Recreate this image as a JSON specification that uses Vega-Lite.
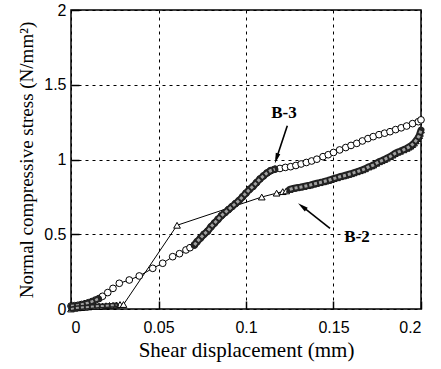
{
  "$schema": "https://vega.github.io/schema/vega-lite/v6.json",
  "width": 350,
  "height": 299,
  "autosize": "none",
  "padding": {"left": 71, "top": 10, "right": 20, "bottom": 60},
  "background": "white",
  "config": {
    "view": {"stroke": "black", "strokeWidth": 1.5},
    "axis": {
      "domain": false,
      "grid": true,
      "gridColor": "black",
      "gridDash": [3, 4],
      "gridWidth": 1,
      "gridOpacity": 1,
      "tickColor": "black",
      "tickSize": -8,
      "tickWidth": 1.5,
      "labelFont": "Liberation Sans",
      "labelFontSize": 16,
      "labelColor": "black",
      "titleFont": "Liberation Serif",
      "titleFontWeight": "normal",
      "titleColor": "black"
    }
  },
  "datasets": {
    "curves": [
      {"series": "B-3", "x": 0.0, "y": 0.02},
      {"series": "B-3", "x": 0.002, "y": 0.022},
      {"series": "B-3", "x": 0.004, "y": 0.025},
      {"series": "B-3", "x": 0.006, "y": 0.03},
      {"series": "B-3", "x": 0.008, "y": 0.035},
      {"series": "B-3", "x": 0.010, "y": 0.042},
      {"series": "B-3", "x": 0.012, "y": 0.05},
      {"series": "B-3", "x": 0.014, "y": 0.06},
      {"series": "B-3", "x": 0.016, "y": 0.07},
      {"series": "B-3", "x": 0.018, "y": 0.085},
      {"series": "B-3", "x": 0.021, "y": 0.11},
      {"series": "B-3", "x": 0.024, "y": 0.138},
      {"series": "B-3", "x": 0.0276, "y": 0.172},
      {"series": "B-3", "x": 0.0333, "y": 0.194},
      {"series": "B-3", "x": 0.039, "y": 0.221},
      {"series": "B-3", "x": 0.0467, "y": 0.272},
      {"series": "B-3", "x": 0.0524, "y": 0.306},
      {"series": "B-3", "x": 0.0581, "y": 0.35},
      {"series": "B-3", "x": 0.062, "y": 0.37},
      {"series": "B-3", "x": 0.0657, "y": 0.395},
      {"series": "B-3", "x": 0.068, "y": 0.41},
      {"series": "B-3", "x": 0.0705, "y": 0.428},
      {"series": "B-3", "x": 0.072, "y": 0.45},
      {"series": "B-3", "x": 0.074, "y": 0.475},
      {"series": "B-3", "x": 0.076, "y": 0.5},
      {"series": "B-3", "x": 0.078, "y": 0.52},
      {"series": "B-3", "x": 0.080, "y": 0.55},
      {"series": "B-3", "x": 0.082, "y": 0.575},
      {"series": "B-3", "x": 0.084, "y": 0.6},
      {"series": "B-3", "x": 0.086, "y": 0.625},
      {"series": "B-3", "x": 0.088, "y": 0.645},
      {"series": "B-3", "x": 0.090, "y": 0.665},
      {"series": "B-3", "x": 0.092, "y": 0.685},
      {"series": "B-3", "x": 0.094, "y": 0.705},
      {"series": "B-3", "x": 0.096, "y": 0.725},
      {"series": "B-3", "x": 0.098, "y": 0.75},
      {"series": "B-3", "x": 0.100, "y": 0.775},
      {"series": "B-3", "x": 0.102, "y": 0.8},
      {"series": "B-3", "x": 0.104, "y": 0.82},
      {"series": "B-3", "x": 0.106, "y": 0.845},
      {"series": "B-3", "x": 0.108, "y": 0.87},
      {"series": "B-3", "x": 0.110, "y": 0.89},
      {"series": "B-3", "x": 0.112, "y": 0.91},
      {"series": "B-3", "x": 0.114, "y": 0.925},
      {"series": "B-3", "x": 0.1165, "y": 0.935},
      {"series": "B-3", "x": 0.1194, "y": 0.94},
      {"series": "B-3", "x": 0.1225, "y": 0.947},
      {"series": "B-3", "x": 0.1255, "y": 0.952},
      {"series": "B-3", "x": 0.1285, "y": 0.96},
      {"series": "B-3", "x": 0.1315, "y": 0.97},
      {"series": "B-3", "x": 0.1345, "y": 0.98},
      {"series": "B-3", "x": 0.1375, "y": 0.99},
      {"series": "B-3", "x": 0.1405, "y": 1.002},
      {"series": "B-3", "x": 0.144, "y": 1.019},
      {"series": "B-3", "x": 0.147, "y": 1.032},
      {"series": "B-3", "x": 0.150, "y": 1.047},
      {"series": "B-3", "x": 0.1535, "y": 1.064},
      {"series": "B-3", "x": 0.157, "y": 1.08},
      {"series": "B-3", "x": 0.160, "y": 1.094},
      {"series": "B-3", "x": 0.1633, "y": 1.108},
      {"series": "B-3", "x": 0.1665, "y": 1.124},
      {"series": "B-3", "x": 0.1697, "y": 1.14},
      {"series": "B-3", "x": 0.1727, "y": 1.153},
      {"series": "B-3", "x": 0.176, "y": 1.166},
      {"series": "B-3", "x": 0.1792, "y": 1.176},
      {"series": "B-3", "x": 0.1823, "y": 1.186},
      {"series": "B-3", "x": 0.1855, "y": 1.2},
      {"series": "B-3", "x": 0.1887, "y": 1.212},
      {"series": "B-3", "x": 0.1918, "y": 1.224},
      {"series": "B-3", "x": 0.1952, "y": 1.24},
      {"series": "B-3", "x": 0.1985, "y": 1.253},
      {"series": "B-3", "x": 0.2, "y": 1.265},

      {"series": "B-2", "x": 0.0, "y": 0.0},
      {"series": "B-2", "x": 0.002, "y": 0.005},
      {"series": "B-2", "x": 0.004, "y": 0.008},
      {"series": "B-2", "x": 0.006, "y": 0.01},
      {"series": "B-2", "x": 0.008, "y": 0.012},
      {"series": "B-2", "x": 0.010, "y": 0.014},
      {"series": "B-2", "x": 0.012, "y": 0.016},
      {"series": "B-2", "x": 0.014, "y": 0.018},
      {"series": "B-2", "x": 0.016, "y": 0.02},
      {"series": "B-2", "x": 0.018, "y": 0.02},
      {"series": "B-2", "x": 0.020, "y": 0.022},
      {"series": "B-2", "x": 0.022, "y": 0.024},
      {"series": "B-2", "x": 0.024, "y": 0.025},
      {"series": "B-2", "x": 0.026, "y": 0.027},
      {"series": "B-2", "x": 0.028, "y": 0.03},
      {"series": "B-2", "x": 0.030, "y": 0.03},
      {"series": "B-2", "x": 0.0606, "y": 0.56},
      {"series": "B-2", "x": 0.109, "y": 0.749},
      {"series": "B-2", "x": 0.1175, "y": 0.775},
      {"series": "B-2", "x": 0.121, "y": 0.785},
      {"series": "B-2", "x": 0.123, "y": 0.79},
      {"series": "B-2", "x": 0.125, "y": 0.8},
      {"series": "B-2", "x": 0.127, "y": 0.807},
      {"series": "B-2", "x": 0.129, "y": 0.811},
      {"series": "B-2", "x": 0.131, "y": 0.815},
      {"series": "B-2", "x": 0.133, "y": 0.82},
      {"series": "B-2", "x": 0.135, "y": 0.825},
      {"series": "B-2", "x": 0.1366, "y": 0.829},
      {"series": "B-2", "x": 0.1385, "y": 0.835},
      {"series": "B-2", "x": 0.140, "y": 0.84},
      {"series": "B-2", "x": 0.142, "y": 0.845},
      {"series": "B-2", "x": 0.144, "y": 0.851},
      {"series": "B-2", "x": 0.1455, "y": 0.856},
      {"series": "B-2", "x": 0.147, "y": 0.86},
      {"series": "B-2", "x": 0.1485, "y": 0.866},
      {"series": "B-2", "x": 0.150, "y": 0.872},
      {"series": "B-2", "x": 0.152, "y": 0.878},
      {"series": "B-2", "x": 0.1537, "y": 0.885},
      {"series": "B-2", "x": 0.1555, "y": 0.89},
      {"series": "B-2", "x": 0.157, "y": 0.895},
      {"series": "B-2", "x": 0.1585, "y": 0.9},
      {"series": "B-2", "x": 0.160, "y": 0.905},
      {"series": "B-2", "x": 0.1615, "y": 0.911},
      {"series": "B-2", "x": 0.1633, "y": 0.918},
      {"series": "B-2", "x": 0.165, "y": 0.925},
      {"series": "B-2", "x": 0.1665, "y": 0.931},
      {"series": "B-2", "x": 0.168, "y": 0.938},
      {"series": "B-2", "x": 0.170, "y": 0.95},
      {"series": "B-2", "x": 0.1715, "y": 0.957},
      {"series": "B-2", "x": 0.1727, "y": 0.963},
      {"series": "B-2", "x": 0.1745, "y": 0.975},
      {"series": "B-2", "x": 0.176, "y": 0.985},
      {"series": "B-2", "x": 0.1775, "y": 0.992},
      {"series": "B-2", "x": 0.179, "y": 1.0},
      {"series": "B-2", "x": 0.1805, "y": 1.009},
      {"series": "B-2", "x": 0.1823, "y": 1.019},
      {"series": "B-2", "x": 0.1838, "y": 1.03},
      {"series": "B-2", "x": 0.185, "y": 1.04},
      {"series": "B-2", "x": 0.1865, "y": 1.048},
      {"series": "B-2", "x": 0.188, "y": 1.055},
      {"series": "B-2", "x": 0.190, "y": 1.065},
      {"series": "B-2", "x": 0.1918, "y": 1.075},
      {"series": "B-2", "x": 0.193, "y": 1.083},
      {"series": "B-2", "x": 0.194, "y": 1.09},
      {"series": "B-2", "x": 0.195, "y": 1.1},
      {"series": "B-2", "x": 0.196, "y": 1.11},
      {"series": "B-2", "x": 0.197, "y": 1.125},
      {"series": "B-2", "x": 0.198, "y": 1.14},
      {"series": "B-2", "x": 0.199, "y": 1.16},
      {"series": "B-2", "x": 0.1994, "y": 1.175},
      {"series": "B-2", "x": 0.2, "y": 1.197}
    ],
    "labels": [
      {"label": "B-3", "x": 0.1217, "y": 1.311},
      {"label": "B-2", "x": 0.1634, "y": 0.482}
    ],
    "arrows": [
      {"label": "B-3", "end": "tail", "x": 0.1236, "y": 1.226},
      {"label": "B-3", "end": "tip", "x": 0.1174, "y": 1.007},
      {"label": "B-2", "end": "tail", "x": 0.148, "y": 0.54},
      {"label": "B-2", "end": "tip", "x": 0.1321, "y": 0.686}
    ]
  },
  "encoding": {
    "x": {
      "field": "x",
      "type": "quantitative",
      "scale": {"domain": [0, 0.2], "nice": false, "zero": false},
      "axis": {
        "values": [0, 0.05, 0.1, 0.15, 0.2],
        "format": "~g",
        "labelPadding": 18,
        "title": "Shear displacement (mm)",
        "titleFontSize": 21,
        "titleY": 47,
        "titleBaseline": "alphabetic"
      }
    },
    "y": {
      "field": "y",
      "type": "quantitative",
      "scale": {"domain": [0, 2], "nice": false, "zero": false},
      "axis": {
        "values": [0, 0.5, 1, 1.5, 2],
        "format": "~g",
        "labelPadding": 13,
        "title": "Normal compressive stress (N/mm²)",
        "titleFontSize": 19,
        "titleX": -45,
        "titleBaseline": "middle"
      }
    }
  },
  "layer": [
    {
      "data": {"name": "curves"},
      "mark": {"type": "line", "color": "black", "strokeWidth": 1},
      "encoding": {"detail": {"field": "series", "type": "nominal"}}
    },
    {
      "data": {"name": "curves"},
      "mark": {"type": "point", "filled": false, "fill": "white", "fillOpacity": 1, "stroke": "black", "strokeWidth": 1, "opacity": 1, "size": 45},
      "encoding": {
        "shape": {
          "field": "series",
          "type": "nominal",
          "scale": {"domain": ["B-2", "B-3"], "range": ["triangle-up", "circle"]},
          "legend": null
        }
      }
    },
    {
      "data": {"name": "curves"},
      "transform": [{"filter": "datum.series === 'B-3' && datum.x >= 0.07 && datum.x <= 0.1165"}],
      "layer": [
        {"mark": {"type": "line", "color": "#222222", "strokeWidth": 7, "strokeCap": "round"}, "encoding": {}},
        {"mark": {"type": "line", "color": "#a0a0a0", "strokeWidth": 3, "strokeDash": [3, 2]}, "encoding": {}}
      ]
    },
    {
      "data": {"name": "curves"},
      "transform": [{"filter": "datum.series === 'B-2' && datum.x >= 0.125"}],
      "layer": [
        {"mark": {"type": "line", "color": "#222222", "strokeWidth": 7, "strokeCap": "round"}, "encoding": {}},
        {"mark": {"type": "line", "color": "#a0a0a0", "strokeWidth": 3, "strokeDash": [3, 2]}, "encoding": {}}
      ]
    },
    {
      "data": {"name": "curves"},
      "transform": [{"filter": "datum.series === 'B-3' && datum.x <= 0.016"}],
      "layer": [
        {"mark": {"type": "line", "color": "#222222", "strokeWidth": 6, "strokeCap": "round"}, "encoding": {}},
        {"mark": {"type": "line", "color": "#a0a0a0", "strokeWidth": 2.5, "strokeDash": [3, 2]}, "encoding": {}}
      ]
    },
    {
      "data": {"name": "curves"},
      "transform": [{"filter": "datum.series === 'B-2' && datum.x <= 0.026"}],
      "layer": [
        {"mark": {"type": "line", "color": "#222222", "strokeWidth": 5, "strokeCap": "round"}, "encoding": {}},
        {"mark": {"type": "line", "color": "#a0a0a0", "strokeWidth": 2, "strokeDash": [3, 2]}, "encoding": {}}
      ]
    },
    {
      "data": {"name": "labels"},
      "mark": {"type": "text", "font": "Liberation Serif", "fontSize": 17, "fontWeight": "bold", "color": "black", "align": "center", "baseline": "middle"},
      "encoding": {"text": {"field": "label", "type": "nominal"}}
    },
    {
      "data": {"name": "arrows"},
      "mark": {"type": "line", "color": "black", "strokeWidth": 1.6},
      "encoding": {"detail": {"field": "label", "type": "nominal"}}
    },
    {
      "data": {"name": "arrows"},
      "transform": [{"filter": "datum.label === 'B-3' && datum.end === 'tip'"}],
      "mark": {"type": "point", "shape": "M0,-1L0.45,1L-0.45,1Z", "filled": true, "color": "black", "opacity": 1, "size": 110, "angle": 197.7}
    },
    {
      "data": {"name": "arrows"},
      "transform": [{"filter": "datum.label === 'B-2' && datum.end === 'tip'"}],
      "mark": {"type": "point", "shape": "M0,-1L0.45,1L-0.45,1Z", "filled": true, "color": "black", "opacity": 1, "size": 110, "angle": 308.3}
    }
  ]
}
